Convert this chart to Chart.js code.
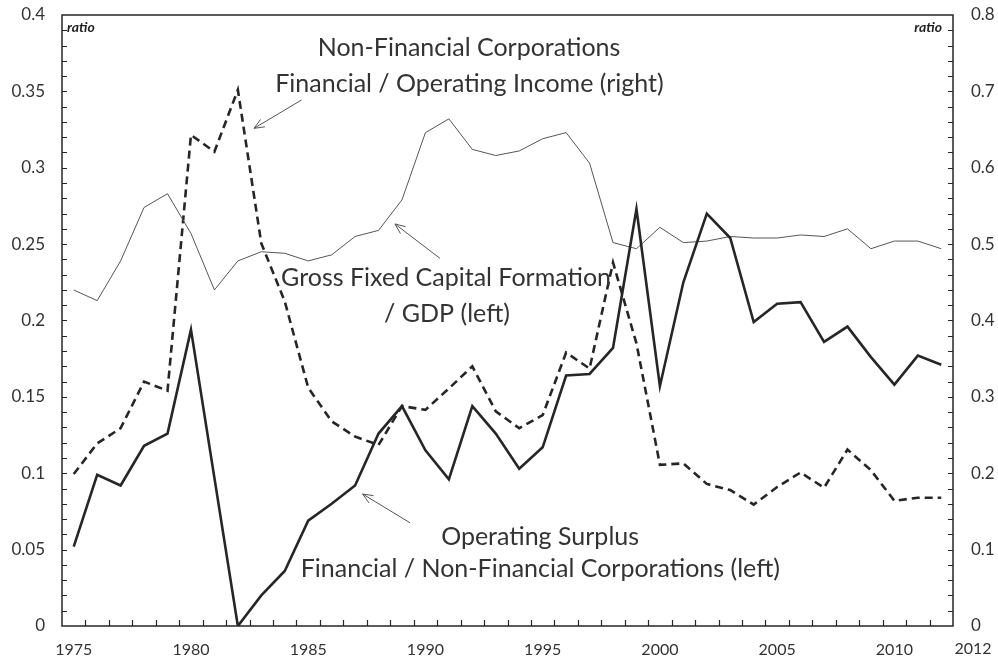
<!DOCTYPE html>
<html lang="en">

<head>
    <meta charset="UTF-8">
    <title>Ratios</title>
    <style>
        body { margin: 0; background: #fff; }
        #wrap { width: 998px; height: 662px; }
    </style>
</head>

<body>
    <div id="wrap"><canvas id="myCanvas" width="998" height="662"></canvas></div>
    <script src="https://cdn.jsdelivr.net/npm/chart.js@4.4.0/dist/chart.umd.min.js"></script>
    <script>
        // years on the x axis
        const years = [1975, 1976, 1977, 1978, 1979, 1980, 1981, 1982, 1983, 1984,
            1985, 1986, 1987, 1988, 1989, 1990, 1991, 1992, 1993, 1994,
            1995, 1996, 1997, 1998, 1999, 2000, 2001, 2002, 2003, 2004,
            2005, 2006, 2007, 2008, 2009, 2010, 2011, 2012];

        // operating surplus financial / non-financial corps (left)
        const opSurplus = [0.052, 0.099, 0.092, 0.118, 0.126, 0.194, 0.097, 0.000, 0.020, 0.036,
            0.069, 0.080, 0.092, 0.126, 0.144, 0.115, 0.096, 0.144, 0.126, 0.103,
            0.117, 0.164, 0.165, 0.182, 0.273, 0.157, 0.225, 0.270, 0.254, 0.199,
            0.211, 0.212, 0.186, 0.196, 0.176, 0.158, 0.177, 0.171];

        // gross fixed capital formation / GDP (left)
        const gfcf = [0.220, 0.213, 0.239, 0.274, 0.283, 0.257, 0.220, 0.239, 0.245, 0.244,
            0.239, 0.243, 0.255, 0.259, 0.279, 0.323, 0.332, 0.312, 0.308, 0.311,
            0.319, 0.323, 0.303, 0.251, 0.247, 0.261, 0.251, 0.252, 0.255, 0.254,
            0.254, 0.256, 0.255, 0.260, 0.247, 0.252, 0.252, 0.247];

        // NFC financial / operating income (right)
        const finIncome = [0.199, 0.239, 0.259, 0.320, 0.308, 0.643, 0.621, 0.702, 0.501, 0.425,
            0.312, 0.268, 0.248, 0.237, 0.288, 0.283, 0.311, 0.340, 0.281, 0.259,
            0.276, 0.358, 0.337, 0.476, 0.370, 0.211, 0.213, 0.186, 0.178, 0.159,
            0.182, 0.201, 0.181, 0.231, 0.204, 0.164, 0.168, 0.168];

        const leftTicks = { min: 0, max: 0.4, step: 0.05, minor: 0.01 };
        const rightTicks = { min: 0, max: 0.8, step: 0.1, minor: 0.02 };

        // annotations: x as category index, y as left axis value (text baseline)
        const notes = [
            { text: 'Non-Financial Corporations', i: 16.86, v: 0.3734 },
            { text: 'Financial / Operating Income (right)', i: 16.88, v: 0.3498 },
            { text: 'Gross Fixed Capital Formation', i: 15.88, v: 0.2226 },
            { text: '/ GDP (left)', i: 15.92, v: 0.1993 },
            { text: 'Operating Surplus', i: 19.89, v: 0.0530 },
            { text: 'Financial / Non-Financial Corporations (left)', i: 19.9, v: 0.0321 }
        ];
        const arrows = [
            { from: [9.72, 0.3444], to: [7.69, 0.3258] },
            { from: [15.62, 0.2407], to: [13.70, 0.2632] },
            { from: [14.34, 0.0676], to: [12.32, 0.0864] }
        ];

        const ink = '#262626';
        const txt = '#333';
        const fmt = v => String(+v.toFixed(2));

        const extras = {
            id: 'extras',
            afterDraw(chart) {
                const c = chart.ctx;
                const a = chart.chartArea;
                const x = chart.scales.x, y = chart.scales.y, y1 = chart.scales.y1;
                c.save();
                // frame
                c.strokeStyle = ink;
                c.lineWidth = 1.5;
                c.strokeRect(a.left, a.top, a.right - a.left, a.bottom - a.top);
                // inner tick marks
                c.lineWidth = 1.2;
                c.beginPath();
                for (let v = leftTicks.minor; v < leftTicks.max - 1e-9; v += leftTicks.minor) {
                    const py = Math.round(y.getPixelForValue(v)) + 0.5;
                    c.moveTo(a.left, py); c.lineTo(a.left + 5, py);
                }
                for (let v = rightTicks.minor; v < rightTicks.max - 1e-9; v += rightTicks.minor) {
                    const py = Math.round(y1.getPixelForValue(v)) + 0.5;
                    c.moveTo(a.right, py); c.lineTo(a.right - 5, py);
                }
                for (let k = 1; k < years.length; k++) {
                    const px = Math.round(x.getPixelForValue(k - 0.5)) + 0.5;
                    c.moveTo(px, a.bottom); c.lineTo(px, a.bottom - 6);
                }
                c.stroke();
                // unit labels
                c.fillStyle = '#222';
                c.font = 'italic bold 14px Lato';
                c.textBaseline = 'middle';
                c.textAlign = 'left';
                c.fillText('ratio', a.left + 5, a.top + 12);
                c.textAlign = 'right';
                c.fillText('ratio', a.right - 11, a.top + 12);
                // last year label at right corner
                c.font = '16px Lato';
                c.fillStyle = txt;
                c.textAlign = 'center';
                c.fillText(String(years[years.length - 1]), a.right + 20, a.bottom + 23);
                // annotation text
                c.font = '25px Lato';
                c.textBaseline = 'alphabetic';
                notes.forEach(n => {
                    c.fillText(n.text, x.getPixelForValue(n.i), y.getPixelForValue(n.v));
                });
                // arrows
                c.strokeStyle = '#555';
                c.lineWidth = 1;
                arrows.forEach(ar => {
                    const x0 = x.getPixelForValue(ar.from[0]), y0 = y.getPixelForValue(ar.from[1]);
                    const x1 = x.getPixelForValue(ar.to[0]), y1p = y.getPixelForValue(ar.to[1]);
                    const ang = Math.atan2(y1p - y0, x1 - x0);
                    c.beginPath();
                    c.moveTo(x0, y0); c.lineTo(x1, y1p);
                    c.moveTo(x1 - 11 * Math.cos(ang - 0.4), y1p - 11 * Math.sin(ang - 0.4));
                    c.lineTo(x1, y1p);
                    c.lineTo(x1 - 11 * Math.cos(ang + 0.4), y1p - 11 * Math.sin(ang + 0.4));
                    c.stroke();
                });
                c.restore();
            }
        };

        var ctx = document.getElementById('myCanvas').getContext('2d');
        var myChart = new Chart(ctx, {
            type: 'line',
            data: {
                labels: years,
                datasets: [{
                    label: 'Operating Surplus Financial / Non-Financial Corporations (left)',
                    data: opSurplus,
                    yAxisID: 'y',
                    borderColor: ink,
                    borderWidth: 2.6,
                    pointRadius: 0,
                    tension: 0
                }, {
                    label: 'Gross Fixed Capital Formation / GDP (left)',
                    data: gfcf,
                    yAxisID: 'y',
                    borderColor: '#555',
                    borderWidth: 1,
                    pointRadius: 0,
                    tension: 0
                }, {
                    label: 'Non-Financial Corporations Financial / Operating Income (right)',
                    data: finIncome,
                    yAxisID: 'y1',
                    borderColor: ink,
                    borderWidth: 2.6,
                    borderDash: [8, 5],
                    pointRadius: 0,
                    tension: 0
                }]
            },
            options: {
                responsive: false,
                animation: false,
                layout: { padding: { top: 15, left: 0, right: 0, bottom: 0 } },
                plugins: { legend: { display: false }, tooltip: { enabled: false } },
                scales: {
                    x: {
                        offset: true,
                        grid: { display: false, drawTicks: false },
                        border: { display: false },
                        ticks: {
                            autoSkip: false,
                            maxRotation: 0,
                            padding: 14,
                            color: txt,
                            font: { family: 'Lato', size: 16 },
                            callback: function (value) {
                                const yr = this.getLabelForValue(value);
                                return (yr % 5 === 0) ? String(yr) : '';
                            }
                        },
                        afterFit: s => { s.height = 36; s.paddingLeft = 0; s.paddingRight = 0; }
                    },
                    y: {
                        position: 'left',
                        min: leftTicks.min, max: leftTicks.max,
                        grid: { display: false, drawTicks: false },
                        border: { display: false },
                        ticks: {
                            stepSize: leftTicks.step,
                            padding: 17,
                            color: txt,
                            font: { family: 'Lato', size: 17 },
                            callback: v => fmt(v)
                        },
                        afterFit: s => { s.width = 62; s.paddingTop = 0; s.paddingBottom = 0; }
                    },
                    y1: {
                        position: 'right',
                        min: rightTicks.min, max: rightTicks.max,
                        grid: { display: false, drawTicks: false },
                        border: { display: false },
                        ticks: {
                            stepSize: rightTicks.step,
                            padding: 18,
                            color: txt,
                            font: { family: 'Lato', size: 17 },
                            callback: v => fmt(v)
                        },
                        afterFit: s => { s.width = 45; s.paddingTop = 0; s.paddingBottom = 0; }
                    }
                }
            },
            plugins: [extras]
        });
    </script>
</body>

</html>
